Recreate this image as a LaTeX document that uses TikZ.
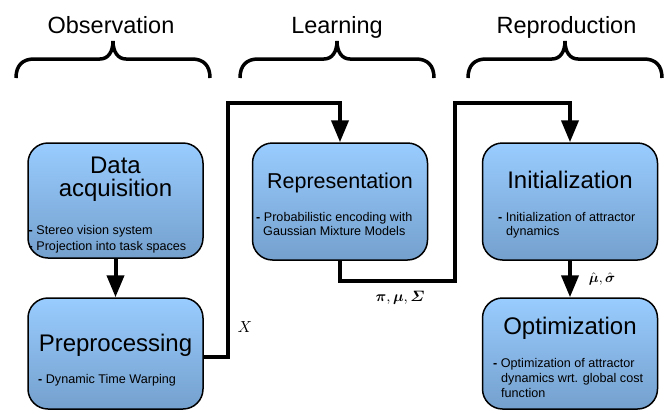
\documentclass[tikz,border=0pt]{standalone}
\usepackage{amsmath}
\usepackage{graphicx}
\usepackage{fontspec}
\setmainfont{Liberation Sans}
\usetikzlibrary{arrows.meta}
\definecolor{boxtop}{RGB}{153,204,255}
\definecolor{boxbot}{RGB}{116,160,205}
\tikzset{
  box/.style={draw=black, line width=1.5pt, rounded corners=20pt,
    top color=boxtop, bottom color=boxbot, minimum width=175pt, inner sep=0pt},
  title/.style={font=\fontsize{24}{24}\selectfont, inner sep=0pt, anchor=base},
  head/.style={font=\fontsize{23.5}{24}\selectfont, inner sep=0pt, anchor=base},
  sub/.style={font=\fontsize{12.6}{14}\selectfont, inner sep=0pt, anchor=base west},
  conn/.style={line width=4pt, line join=miter, -{Triangle[length=22pt,width=17pt]}},
  brace/.style={line width=3.5pt, line cap=butt},
  mlabel/.style={inner sep=0pt},
  pics/bracket/.style={code={
    \draw[brace] (0,78) .. controls (0,66) and (6,59) .. (18,59) -- (84,59)
      .. controls (92,59) and (97,52) .. (97,41)
      .. controls (97,52) and (102,59) .. (110,59) -- (176,59)
      .. controls (188,59) and (194,66) .. (194,78);
  }}
}
\newcommand{\hy}{\textbf{-}}
\begin{document}
\begin{tikzpicture}[x=1pt,y=-1pt]
\useasboundingbox (0,0) rectangle (667,413);

% phase headings and braces
\node[head] (hobs) at (111,33) {Observation};
\node[head] (hlearn) at (337,33) {Learning};
\node[head] (hrep) at (566.5,33) {Reproduction};
\pic at (16,0) {bracket};
\pic at (240,0) {bracket};
\pic at (468,0) {bracket};

% boxes
\node[box, minimum height=115pt] (acq) at (115.5,200.5) {};
\node[box, minimum height=111pt] (pre) at (115.5,353.5) {};
\node[box, minimum height=117pt] (rep) at (340,201.5) {};
\node[box, minimum height=117pt] (init) at (570,201.5) {};
\node[box, minimum height=111pt] (opt) at (570,353.5) {};

% box texts
\node[title] (tacq1) at (115.5,173) {Data};
\node[title] (tacq2) at (115.5,196) {acquisition};
\node[sub] (sacq1) at (28.5,234) {\hy\ Stereo vision system};
\node[sub] (sacq2) at (28.5,250) {\hy\ Projection into task spaces};

\node[title] (tpre) at (115.5,351) {Preprocessing};
\node[sub] (spre1) at (38,383) {\hy\ Dynamic Time Warping};

\node[title, font=\fontsize{21.5}{22}\selectfont] (trep) at (340,188) {Representation};
\node[sub] (srep1) at (256,221) {\hy\ Probabilistic encoding with};
\node[sub] (srep2) at (263,235) {Gaussian Mixture Models};

\node[title] (tinit) at (570,188) {Initialization};
\node[sub] (sinit1) at (498,221) {\hy\ Initialization of attractor};
\node[sub] (sinit2) at (506,235) {dynamics};

\node[title] (topt) at (570,334) {Optimization};
\node[sub] (sopt1) at (493,367) {\hy\ Optimization of attractor};
\node[sub] (sopt2) at (501,382) {dynamics wrt. global cost};
\node[sub] (sopt3) at (501,397) {function};

% connectors
\coordinate (c1) at (228,103);
\coordinate (c2) at (455,281);
\coordinate (c3) at (455,103);
\draw[conn] (acq.south) -- (pre.north);
\draw[conn] ([yshift=-3.5pt]pre.east) -| (c1) -| (rep.north);
\draw[conn] (rep.south) |- (c2) -- (c3) -| (init.north);
\draw[conn] (init.south) -- (opt.north);

% labels
\node[mlabel] (lx) at (245,327) {\scalebox{1.6}{$X$}};
\node[mlabel] (lpms) at (400,298) {\scalebox{1.5}{$\boldsymbol{\pi}, \boldsymbol{\mu}, \boldsymbol{\varSigma}$}};
\node[mlabel] (lhat) at (602,279) {\scalebox{1.4}{$\hat{\boldsymbol{\mu}}, \hat{\boldsymbol{\sigma}}$}};
\end{tikzpicture}
\end{document}
